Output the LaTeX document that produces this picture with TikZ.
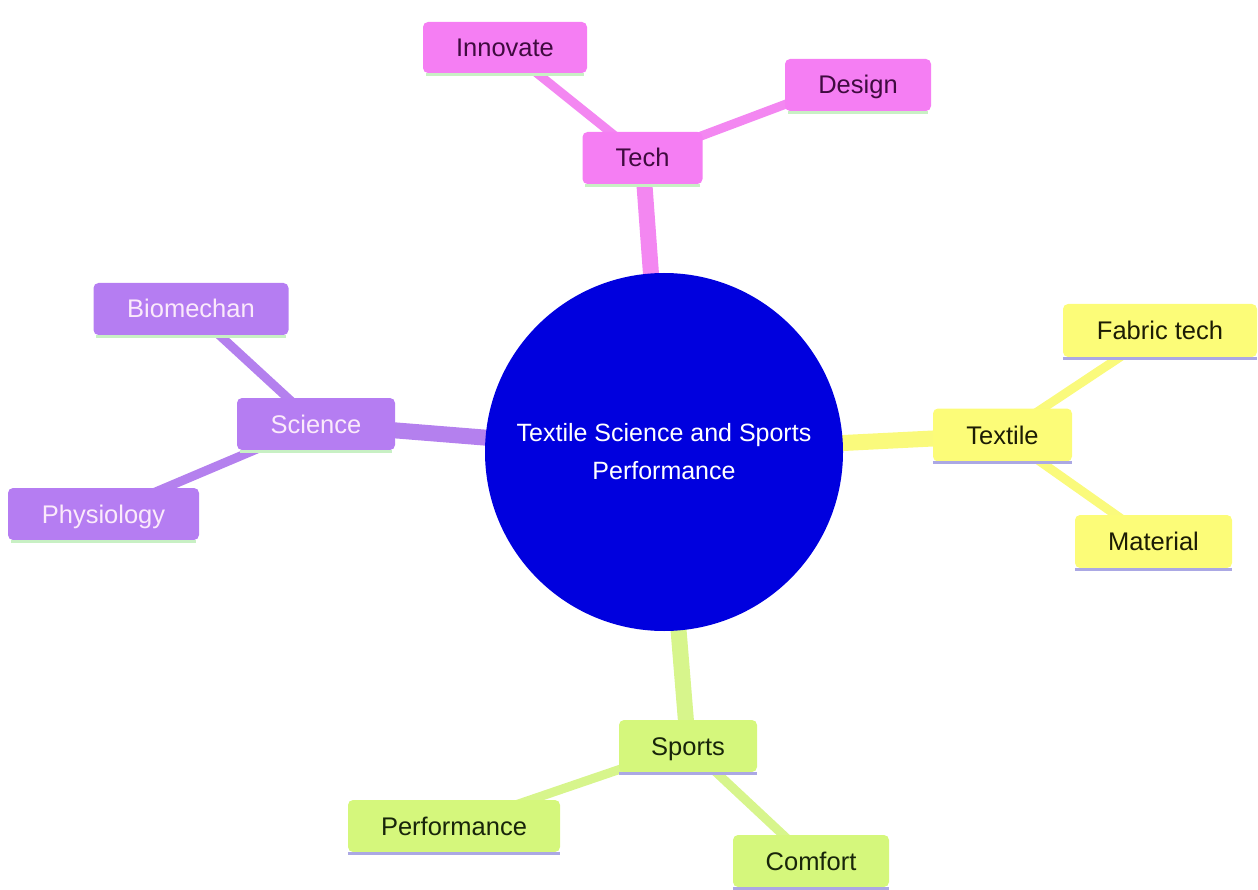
\documentclass[tikz,border=0pt]{standalone}
\usepackage{fontspec}
\setmainfont{Liberation Sans}
\usetikzlibrary{backgrounds}
\definecolor{pinkF}{HTML}{F57EF3}
\definecolor{pinkE}{HTML}{F387F1}
\definecolor{pinkT}{HTML}{3F0B3F}
\definecolor{purF}{HTML}{B57DF2}
\definecolor{purE}{HTML}{B480EE}
\definecolor{purT}{HTML}{FBEAFB}
\definecolor{yelF}{HTML}{FCFC78}
\definecolor{yelE}{HTML}{FAFA7C}
\definecolor{yelT}{HTML}{1C1C05}
\definecolor{limF}{HTML}{D5F77C}
\definecolor{limE}{HTML}{D7F58C}
\definecolor{limT}{HTML}{18250A}
\definecolor{greenL}{HTML}{C8F0C4}
\definecolor{lilacL}{HTML}{ABA8E4}
\definecolor{coreB}{HTML}{0000DE}
\tikzset{
  mmbox/.style={rectangle, rounded corners=5pt, inner sep=0pt, text height=18pt, text depth=0pt,
                font=\fontsize{25.5}{30}\selectfont},
  tech/.style={mmbox, fill=pinkF, text=pinkT},
  sci/.style={mmbox, fill=purF, text=purT},
  tex/.style={mmbox, fill=yelF, text=yelT},
  spo/.style={mmbox, fill=limF, text=limT},
  lvone/.style={line width=16pt},
  lvtwo/.style={line width=9pt},
  gline/.style={greenL, line width=3pt},
  lline/.style={lilacL, line width=3pt}
}
\begin{document}
\begin{tikzpicture}[x=1pt,y=-1pt]
\useasboundingbox (0,0) rectangle (1258,890);
% center
\node[circle, fill=coreB, minimum size=358pt, inner sep=0pt, text=white,
      align=center, font=\fontsize{25}{38}\selectfont] (core) at (664,452)
      {Textile Science and Sports\\Performance};
% Tech
\node[tech, minimum width=164pt, minimum height=51pt] (innovate) at (505,47.5) {Innovate};
\node[tech, minimum width=146pt, minimum height=52pt] (design) at (858,85) {Design};
\node[tech, minimum width=120pt, minimum height=52pt] (tech) at (642.5,158) {Tech};
% Science
\node[sci, minimum width=195pt, minimum height=52pt] (biomech) at (191,309) {Biomechan};
\node[sci, minimum width=158pt, minimum height=52pt] (science) at (316,424) {Science};
\node[sci, minimum width=191pt, minimum height=52pt] (physio) at (103.5,514) {Physiology};
% Textile
\node[tex, minimum width=194pt, minimum height=53pt] (fabric) at (1160,330.5) {Fabric tech};
\node[tex, minimum width=139pt, minimum height=53pt] (textile) at (1002.5,435) {Textile};
\node[tex, minimum width=157pt, minimum height=53pt] (material) at (1153.5,541.5) {Material};
% Sports
\node[spo, minimum width=138pt, minimum height=52pt] (sports) at (688,746) {Sports};
\node[spo, minimum width=212pt, minimum height=52pt] (perf) at (454,826) {Performance};
\node[spo, minimum width=156pt, minimum height=52pt] (comfort) at (811,861) {Comfort};
% bottom lines
\foreach \n in {innovate,design,tech,biomech,science,physio}{
  \draw[gline] ([xshift=3pt,yshift=-1pt]\n.south west) -- ([xshift=-3pt,yshift=-1pt]\n.south east);
}
\foreach \n in {fabric,textile,material,sports,perf,comfort}{
  \draw[lline] ([yshift=-1pt]\n.south west) -- ([yshift=-1pt]\n.south east);
}
\begin{scope}[on background layer]
  \draw[pinkE, lvone] (core.center) -- (tech.center);
  \draw[purE, lvone] (core.center) -- (science.center);
  \draw[yelE, lvone] (core.center) -- (textile.center);
  \draw[limE, lvone] (core.center) -- (sports.center);
  \draw[pinkE, lvtwo] (tech.center) -- (innovate.center);
  \draw[pinkE, lvtwo] (tech.center) -- ([yshift=8pt]design.center);
  \draw[purE, lvtwo] (science.center) -- (biomech.center);
  \draw[purE, lvtwo] (science.center) -- (physio.center);
  \draw[yelE, lvtwo] (textile.center) -- (fabric.center);
  \draw[yelE, lvtwo] (textile.center) -- (material.center);
  \draw[limE, lvtwo] (sports.center) -- (perf.center);
  \draw[limE, lvtwo] (sports.center) -- (comfort.center);
\end{scope}
\end{tikzpicture}
\end{document}
